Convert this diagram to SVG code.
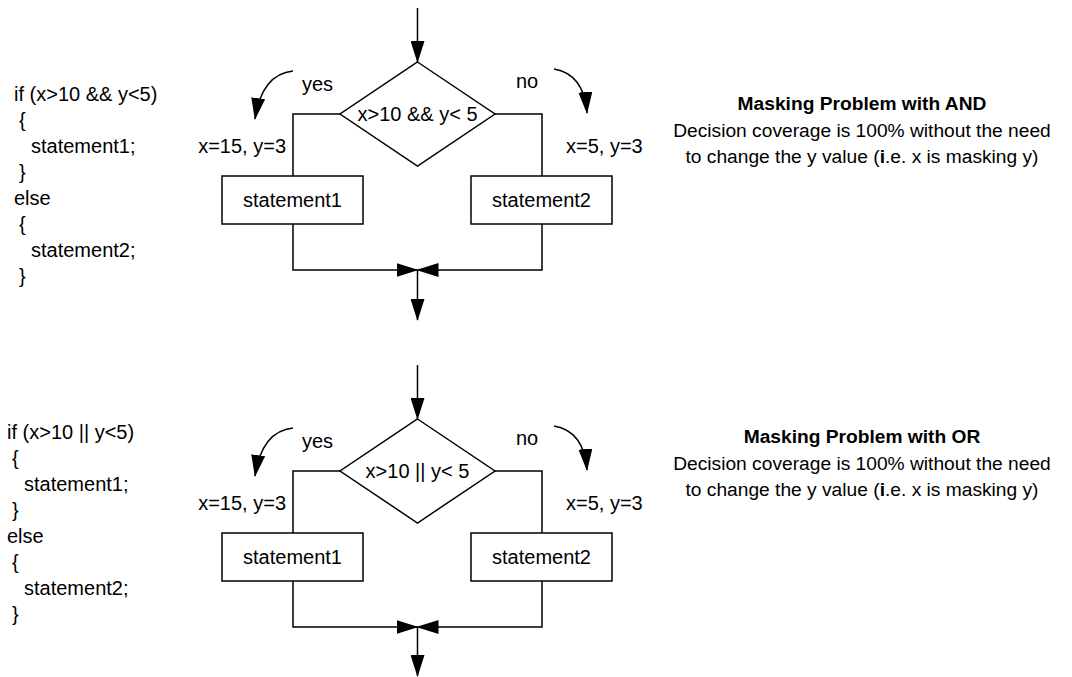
<svg xmlns="http://www.w3.org/2000/svg" width="1072" height="677" viewBox="0 0 1072 677">
  <style>
    .t{font-family:"Liberation Sans",Arial,sans-serif;font-size:20px;fill:#000}
    .n{font-size:19.2px}
    .b{font-weight:bold}
    .mid{text-anchor:middle}
    .end{text-anchor:end}
    .shape{fill:#fff;stroke:#000;stroke-width:1.5}
    .wire{fill:none;stroke:#000;stroke-width:1.5}
    .arr{marker-end:url(#ah)}
  </style>
  <defs>
    <marker id="ah" markerUnits="userSpaceOnUse" markerWidth="22" markerHeight="14" viewBox="0 0 22 14" refX="21" refY="7" orient="auto">
      <path d="M0,0 L22,7 L0,14 Z" fill="#000"/>
    </marker>
  </defs>
  <rect width="1072" height="677" fill="#fff"/>

  <!-- ===== AND example ===== -->
  <g id="code-and" class="t">
    <text x="14" y="101">if (x&gt;10 &amp;&amp; y&lt;5)</text>
    <text x="19" y="127">{</text>
    <text x="31" y="153">statement1;</text>
    <text x="19" y="179">}</text>
    <text x="14" y="205">else</text>
    <text x="19" y="231">{</text>
    <text x="31" y="257">statement2;</text>
    <text x="19" y="283">}</text>
  </g>

  <g id="flow-and">
    <g id="connectors-and">
      <path class="wire arr" d="M417.5,8 V62"/>
      <path class="wire" d="M340,114 H293 V176"/>
      <path class="wire" d="M495,114 H542 V176"/>
      <path class="wire arr" d="M293,224 V270 H417.5"/>
      <path class="wire arr" d="M542,224 V270 H417.5"/>
      <path class="wire arr" d="M417.5,270 V320"/>
      <path class="wire arr" d="M293,71 Q262,74 255,119"/>
      <path class="wire arr" d="M554,69 Q584,74 587,113"/>
    </g>
    <g id="decision-and">
      <polygon class="shape" points="417.5,62 495,114 417.5,166 340,114"/>
      <text class="t mid" x="417.5" y="121">x&gt;10 &amp;&amp; y&lt; 5</text>
    </g>
    <g id="stmt1-and">
      <rect class="shape" x="222" y="176" width="141" height="48"/>
      <text class="t mid" x="292.5" y="207">statement1</text>
    </g>
    <g id="stmt2-and">
      <rect class="shape" x="471" y="176" width="141" height="48"/>
      <text class="t mid" x="541.5" y="207">statement2</text>
    </g>
    <g id="labels-and" class="t">
      <text x="302" y="91">yes</text>
      <text x="516" y="88">no</text>
      <text class="end" x="286" y="153">x=15, y=3</text>
      <text x="566" y="153">x=5, y=3</text>
    </g>
  </g>

  <g id="note-and" class="t n mid">
    <text class="b" x="862" y="110">Masking Problem with AND</text>
    <text x="862" y="136.5">Decision coverage is 100% without the need</text>
    <text x="862" y="163">to change the y value (<tspan class="b">i</tspan>.e. x is masking y)</text>
  </g>

  <!-- ===== OR example ===== -->
  <g id="code-or" class="t" transform="translate(-7,338)">
    <text x="14" y="101">if (x&gt;10 || y&lt;5)</text>
    <text x="19" y="127">{</text>
    <text x="31" y="153">statement1;</text>
    <text x="19" y="179">}</text>
    <text x="14" y="205">else</text>
    <text x="19" y="231">{</text>
    <text x="31" y="257">statement2;</text>
    <text x="19" y="283">}</text>
  </g>

  <g id="flow-or" transform="translate(0,357)">
    <g id="connectors-or">
      <path class="wire arr" d="M417.5,8 V62"/>
      <path class="wire" d="M340,114 H293 V176"/>
      <path class="wire" d="M495,114 H542 V176"/>
      <path class="wire arr" d="M293,224 V270 H417.5"/>
      <path class="wire arr" d="M542,224 V270 H417.5"/>
      <path class="wire arr" d="M417.5,270 V319"/>
      <path class="wire arr" d="M293,71 Q262,74 255,119"/>
      <path class="wire arr" d="M554,69 Q584,74 587,113"/>
    </g>
    <g id="decision-or">
      <polygon class="shape" points="417.5,62 495,114 417.5,166 340,114"/>
      <text class="t mid" x="417.5" y="121">x&gt;10 || y&lt; 5</text>
    </g>
    <g id="stmt1-or">
      <rect class="shape" x="222" y="176" width="141" height="48"/>
      <text class="t mid" x="292.5" y="207">statement1</text>
    </g>
    <g id="stmt2-or">
      <rect class="shape" x="471" y="176" width="141" height="48"/>
      <text class="t mid" x="541.5" y="207">statement2</text>
    </g>
    <g id="labels-or" class="t">
      <text x="302" y="91">yes</text>
      <text x="516" y="88">no</text>
      <text class="end" x="286" y="153">x=15, y=3</text>
      <text x="566" y="153">x=5, y=3</text>
    </g>
  </g>

  <g id="note-or" class="t n mid" transform="translate(0,333)">
    <text class="b" x="862" y="110">Masking Problem with OR</text>
    <text x="862" y="136.5">Decision coverage is 100% without the need</text>
    <text x="862" y="163">to change the y value (<tspan class="b">i</tspan>.e. x is masking y)</text>
  </g>
</svg>
